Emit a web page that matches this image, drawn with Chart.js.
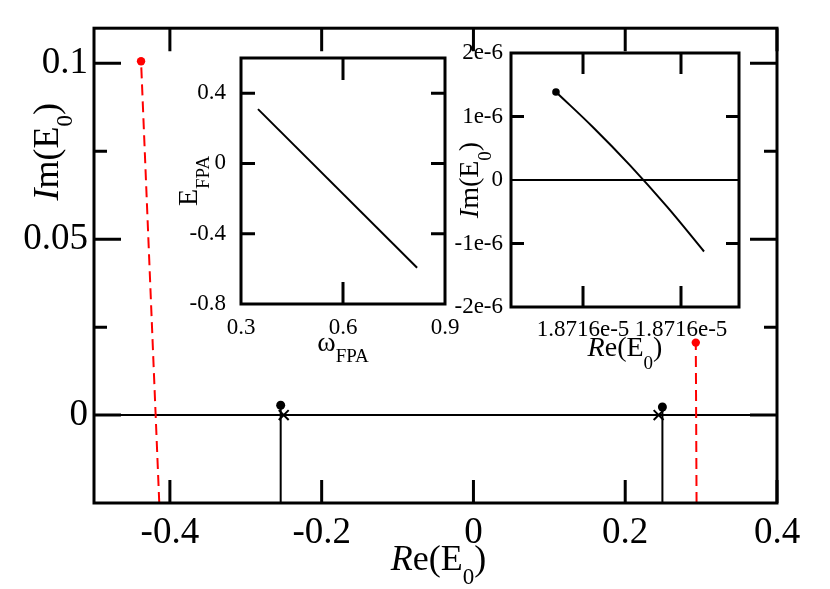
<!DOCTYPE html>
<html>
<head>
<meta charset="utf-8">
<title>E0 trajectories</title>
<script src="https://cdn.jsdelivr.net/npm/chart.js@4.4.1/dist/chart.umd.min.js"></script>
<style>
    body { margin: 0; background: #fff; }
    #wrap { position: relative; width: 830px; height: 589px; }
    #wrap canvas { position: absolute; top: 0; }
    #mainChart { left: 0; }
    #insetFPA { left: 150px; }
    #insetZoom { left: 440px; }
</style>
</head>
<body>
<div id="wrap">
    <canvas id="mainChart" width="830" height="589"></canvas>
    <canvas id="insetFPA" width="330" height="589"></canvas>
    <canvas id="insetZoom" width="390" height="589"></canvas>
</div>
<script>
// main panel: Re(E0) / Im(E0)
const mainXTicks = [-0.4, -0.2, 0, 0.2, 0.4];
const mainYTicks = [0, 0.05, 0.1];
const mainYMinor = [0.025, 0.075];

// red dashed paths (bottom -> dot)
const redLeftRe = [-0.414, -0.438];
const redLeftIm = [-0.025, 0.1006];
const redRightRe = [0.294, 0.293];
const redRightIm = [-0.025, 0.0206];

// black paths (bottom -> dot)
const blackLeftRe = [-0.254, -0.254];
const blackLeftIm = [-0.025, 0.0028];
const blackRightRe = [0.249, 0.249];
const blackRightIm = [-0.025, 0.0023];

// cross markers on the real axis
const crossRe = [-0.250, 0.244];
const crossIm = [0, 0];

// inset 1: E_FPA vs omega_FPA
const omegaFPA = [0.35, 0.818];
const energyFPA = [0.309, -0.594];
const fpaXTicks = [0.3, 0.6, 0.9];
const fpaYTicks = [-0.8, -0.4, 0, 0.4];

// inset 2: zoom near Re(E0) = 1.8716e-5
// Re is kept as an offset from zoomReBase, in units of zoomReUnit
const zoomReBase = 1.8716e-5;
const zoomReUnit = 1e-11;
const zoomReOffset = [-0.276, 0.102, 0.480, 0.857, 1.235];
const zoomIm = [1.386e-6, 0.831e-6, 0.231e-6, -0.420e-6, -1.126e-6];
const zoomXTicks = [0, 1];
const zoomYTicks = [-2e-6, -1e-6, 0, 1e-6, 2e-6];

const SERIF = '"Liberation Serif", "Times New Roman", serif';
Chart.defaults.font.family = SERIF;
Chart.defaults.color = '#000';

function pts(xs, ys) {
    return xs.map((x, i) => ({ x: x, y: ys[i] }));
}

// only the last point of a path gets a dot
function lastOnly(r) {
    return c => c.dataIndex === c.dataset.data.length - 1 ? r : 0;
}

// frame + inward ticks on all four sides
const frameTicks = {
    id: 'frameTicks',
    afterDraw(chart, args, opts) {
        const ctx = chart.ctx, a = chart.chartArea;
        const xs = chart.scales.x, ys = chart.scales.y;
        ctx.save();
        ctx.strokeStyle = '#000';
        ctx.lineWidth = opts.tickWidth;
        ctx.beginPath();
        const xMarks = (major, len) => major.forEach(v => {
            const p = xs.getPixelForValue(v);
            ctx.moveTo(p, a.bottom); ctx.lineTo(p, a.bottom - len);
            ctx.moveTo(p, a.top); ctx.lineTo(p, a.top + len);
        });
        const yMarks = (major, len) => major.forEach(v => {
            const p = ys.getPixelForValue(v);
            ctx.moveTo(a.left, p); ctx.lineTo(a.left + len, p);
            ctx.moveTo(a.right, p); ctx.lineTo(a.right - len, p);
        });
        xMarks(opts.x || [], opts.xLen);
        yMarks(opts.y || [], opts.yLen);
        yMarks(opts.yMinor || [], opts.yMinorLen || 0);
        ctx.stroke();
        ctx.lineWidth = opts.frameWidth;
        ctx.strokeRect(a.left, a.top, a.width, a.height);
        ctx.restore();
    }
};

// axis titles with italics and subscripts
function drawRich(ctx, parts, size, subSize, subDrop) {
    let w = 0;
    parts.forEach(p => {
        ctx.font = (p.it ? 'italic ' : '') + (p.sub ? subSize : size) + 'px ' + SERIF;
        p.w = ctx.measureText(p.t).width;
        w += p.w;
    });
    let x = -w / 2;
    parts.forEach(p => {
        ctx.font = (p.it ? 'italic ' : '') + (p.sub ? subSize : size) + 'px ' + SERIF;
        ctx.fillText(p.t, x, p.sub ? subDrop : 0);
        x += p.w;
    });
}

const richTitles = {
    id: 'richTitles',
    afterDraw(chart, args, opts) {
        const ctx = chart.ctx, a = chart.chartArea;
        ctx.save();
        ctx.fillStyle = '#000';
        ctx.textBaseline = 'alphabetic';
        (opts.items || []).forEach(t => {
            ctx.save();
            if (t.axis === 'x') {
                ctx.translate(a.left + a.width / 2 + (t.dx || 0), a.bottom + t.offset);
            } else {
                ctx.translate(a.left - t.offset, a.top + a.height * t.frac);
                ctx.rotate(-Math.PI / 2);
            }
            drawRich(ctx, t.parts, t.size, t.subSize, t.subDrop);
            ctx.restore();
        });
        ctx.restore();
    }
};

const IM_E0 = [{ t: 'I', it: true }, { t: 'm(' }, { t: 'E' }, { t: '0', sub: true }, { t: ')' }];
const RE_E0 = [{ t: 'R', it: true }, { t: 'e(' }, { t: 'E' }, { t: '0', sub: true }, { t: ')' }];

function axis(min, max, ticks, fit, fontSize, pad, fmt, isY, zeroLine) {
    return {
        type: 'linear', min: min, max: max, bounds: 'data',
        afterBuildTicks: s => { s.ticks = ticks.map(v => ({ value: v })); },
        afterFit: s => {
            if (isY) {
                s.width = fit;
            } else {
                s.height = fit;
                s.paddingLeft = 0;
                s.paddingRight = 0;
            }
        },
        grid: zeroLine ? {
            drawTicks: false,
            lineWidth: 2,
            color: c => (c.tick && c.tick.value === 0) ? '#000' : 'rgba(0,0,0,0)'
        } : { display: false },
        border: { display: false },
        ticks: {
            autoSkip: false, maxRotation: 0, padding: pad, color: '#000',
            font: { family: SERIF, size: fontSize },
            callback: fmt
        }
    };
}

const baseOpts = {
    responsive: false,
    animation: false,
    devicePixelRatio: 1,
    events: []
};

// main panel
new Chart(document.getElementById('mainChart'), {
    type: 'scatter',
    data: {
        datasets: [
            { data: pts(redLeftRe, redLeftIm), showLine: true, borderColor: '#ff0000', borderWidth: 2, borderDash: [11, 6],
              pointRadius: lastOnly(4.2), pointBackgroundColor: '#ff0000', pointBorderWidth: 0 },
            { data: pts(redRightRe, redRightIm), showLine: true, borderColor: '#ff0000', borderWidth: 2, borderDash: [11, 6],
              pointRadius: lastOnly(4.2), pointBackgroundColor: '#ff0000', pointBorderWidth: 0 },
            { data: pts(blackLeftRe, blackLeftIm), showLine: true, borderColor: '#000', borderWidth: 2,
              pointRadius: lastOnly(4.5), pointBackgroundColor: '#000', pointBorderWidth: 0 },
            { data: pts(blackRightRe, blackRightIm), showLine: true, borderColor: '#000', borderWidth: 2,
              pointRadius: lastOnly(4.5), pointBackgroundColor: '#000', pointBorderWidth: 0 },
            { data: pts(crossRe, crossIm), showLine: false, pointStyle: 'crossRot', pointRadius: 7,
              borderColor: '#000', pointBorderWidth: 2 }
        ]
    },
    options: Object.assign({}, baseOpts, {
        layout: { padding: { top: 23, right: 53, left: 0, bottom: 0 } },
        plugins: {
            legend: { display: false },
            tooltip: { enabled: false },
            frameTicks: { x: mainXTicks, xLen: 23, y: mainYTicks, yLen: 27, yMinor: mainYMinor, yMinorLen: 13, tickWidth: 3, frameWidth: 3 },
            richTitles: { items: [
                { axis: 'x', offset: 67, dx: 3, parts: RE_E0, size: 36, subSize: 23, subDrop: 14 },
                { axis: 'y', offset: 36, frac: 0.26, parts: IM_E0, size: 36, subSize: 23, subDrop: 14 }
            ] }
        },
        scales: {
            x: axis(-0.5, 0.4, mainXTicks, 86, 37, 0, v => String(v), false, false),
            y: axis(-0.025, 0.11, mainYTicks, 94, 37, 6, v => String(v), true, true)
        }
    }),
    plugins: [frameTicks, richTitles]
});

// inset 1
new Chart(document.getElementById('insetFPA'), {
    type: 'scatter',
    data: {
        datasets: [
            { data: pts(omegaFPA, energyFPA), showLine: true, borderColor: '#000', borderWidth: 2, pointRadius: 0 }
        ]
    },
    options: Object.assign({}, baseOpts, {
        layout: { padding: { top: 58, right: 35, left: 0, bottom: 0 } },
        plugins: {
            legend: { display: false },
            tooltip: { enabled: false },
            frameTicks: { x: [0.6], xLen: 22, y: [-0.4, 0, 0.4], yLen: 14, tickWidth: 3, frameWidth: 3 },
            richTitles: { items: [
                { axis: 'x', offset: 47, parts: [{ t: 'ω' }, { t: 'FPA', sub: true }], size: 28, subSize: 19, subDrop: 11 },
                { axis: 'y', offset: 44, frac: 0.5, parts: [{ t: 'E' }, { t: 'FPA', sub: true }], size: 28, subSize: 19, subDrop: 12 }
            ] }
        },
        scales: {
            x: axis(0.3, 0.9, fpaXTicks, 285, 23, 2, v => String(v), false, false),
            y: axis(-0.8, 0.6, fpaYTicks, 91, 23, 7, v => String(v), true, false)
        }
    }),
    plugins: [frameTicks, richTitles]
});

// inset 2
new Chart(document.getElementById('insetZoom'), {
    type: 'scatter',
    data: {
        datasets: [
            { data: pts(zoomReOffset, zoomIm), showLine: true, borderColor: '#000', borderWidth: 2, tension: 0.4,
              pointRadius: c => c.dataIndex === 0 ? 3.8 : 0, pointBackgroundColor: '#000', pointBorderWidth: 0 }
        ]
    },
    options: Object.assign({}, baseOpts, {
        layout: { padding: { top: 53, right: 91, left: 0, bottom: 0 } },
        plugins: {
            legend: { display: false },
            tooltip: { enabled: false },
            frameTicks: { x: zoomXTicks, xLen: 21, y: [-1e-6, 1e-6], yLen: 13, tickWidth: 3, frameWidth: 3 },
            richTitles: { items: [
                { axis: 'x', offset: 49, parts: RE_E0, size: 28, subSize: 19, subDrop: 13 },
                { axis: 'y', offset: 33, frac: 0.5, parts: IM_E0, size: 28, subSize: 19, subDrop: 13 }
            ] }
        },
        scales: {
            x: axis(-0.735, 1.592, zoomXTicks, 282, 23, 1, v => (zoomReBase + v * zoomReUnit).toExponential(4), false, false),
            y: axis(-2e-6, 2e-6, zoomYTicks, 71, 23, 8, v => v === 0 ? '0' : Number(v).toExponential(0), true, true)
        }
    }),
    plugins: [frameTicks, richTitles]
});
</script>
</body>
</html>
